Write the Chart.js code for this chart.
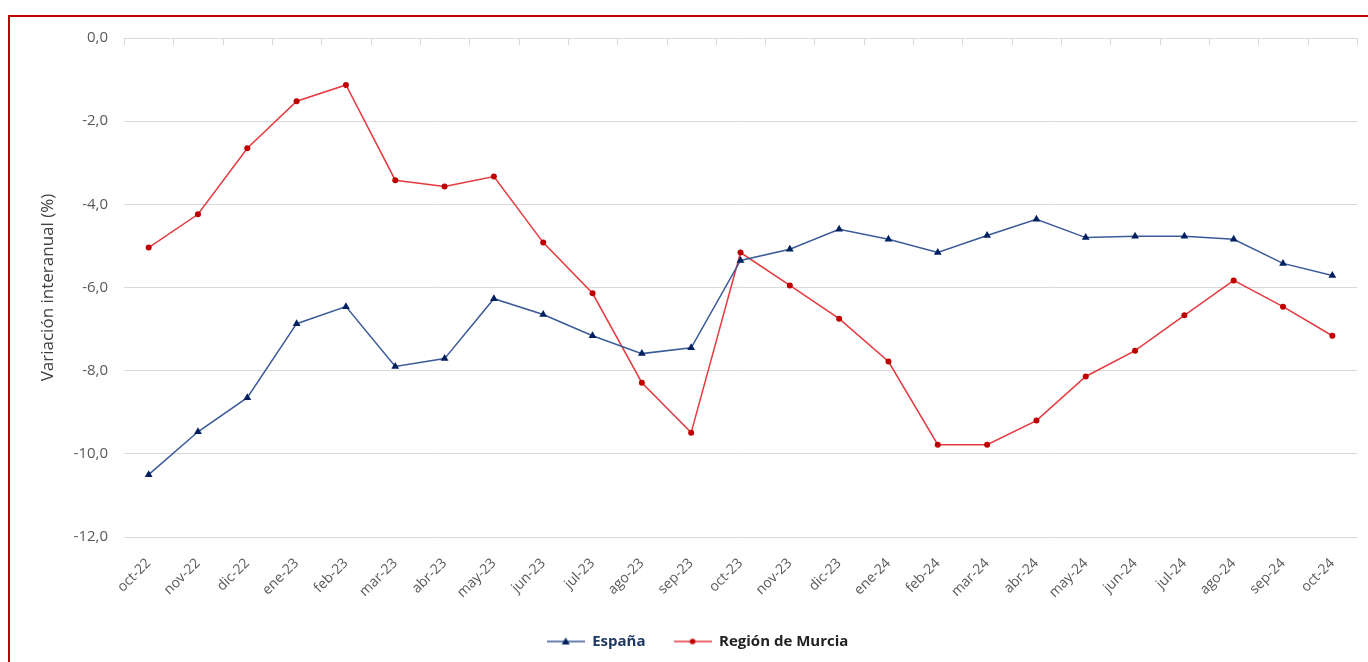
<!DOCTYPE html>
<html>
<head>
<meta charset="utf-8">
<script src="https://cdn.jsdelivr.net/npm/chart.js@4.4.1/dist/chart.umd.min.js"></script>
<style>
    html, body { margin: 0; padding: 0; background: #fff; overflow: hidden; }
    #frame {
        position: absolute;
        left: 8px;
        top: 15px;
        width: 1400px;
        height: 700px;
        border: 2px solid #c00000;
        box-sizing: border-box;
    }
    #wrap { position: absolute; left: 0; top: 0; width: 1368px; height: 662px; }
</style>
</head>
<body>
<div id="frame"></div>
<div id="wrap"><canvas id="chart"></canvas></div>
<script>
const meses = ['oct-22', 'nov-22', 'dic-22', 'ene-23', 'feb-23', 'mar-23', 'abr-23', 'may-23', 'jun-23',
    'jul-23', 'ago-23', 'sep-23', 'oct-23', 'nov-23', 'dic-23', 'ene-24', 'feb-24', 'mar-24', 'abr-24',
    'may-24', 'jun-24', 'jul-24', 'ago-24', 'sep-24', 'oct-24'];

const espana = [-10.5, -9.47, -8.65, -6.87, -6.46, -7.90, -7.71, -6.27, -6.65, -7.16, -7.59, -7.45,
    -5.35, -5.08, -4.60, -4.84, -5.16, -4.75, -4.36, -4.80, -4.77, -4.77, -4.84, -5.42, -5.71];

const murcia = [-5.04, -4.24, -2.65, -1.52, -1.13, -3.42, -3.57, -3.33, -4.92, -6.14, -8.29, -9.49,
    -5.16, -5.95, -6.75, -7.78, -9.78, -9.78, -9.20, -8.14, -7.52, -6.67, -5.83, -6.46, -7.16];

const yTicks = [0, -2, -4, -6, -8, -10, -12];

const FONT = '"Open Sans", Lato, sans-serif';
const azulLinea = '#3a5a98';
const azulMarca = '#002060';
const rojoLinea = '#e43a3f';
const rojoMarca = '#c00000';

// small line + marker sample used as legend symbol
function legendSymbol(lineColor, markColor, shape) {
    const c = document.createElement('canvas');
    c.width = 38;
    c.height = 10;
    const g = c.getContext('2d');
    g.strokeStyle = lineColor;
    g.lineWidth = 1.5;
    g.beginPath();
    g.moveTo(0, 5);
    g.lineTo(38, 5);
    g.stroke();
    g.fillStyle = markColor;
    g.beginPath();
    if (shape === 'triangle') {
        g.moveTo(19, 1);
        g.lineTo(23, 8);
        g.lineTo(15, 8);
        g.closePath();
    } else {
        g.arc(19, 5, 2.8, 0, Math.PI * 2);
    }
    g.fill();
    return c;
}

// short ticks hanging from the top axis line, one at each category boundary
const topTicks = {
    id: 'topTicks',
    afterDatasetsDraw(chart) {
        const x = chart.scales.x;
        const y = chart.scales.y;
        const top = y.getPixelForValue(0);
        const step = (x.right - x.left) / meses.length;
        const ctx = chart.ctx;
        ctx.save();
        ctx.strokeStyle = '#d9d9d9';
        ctx.lineWidth = 1;
        for (let i = 0; i <= meses.length; i++) {
            const px = Math.round(x.left + i * step) + 0.5;
            ctx.beginPath();
            ctx.moveTo(px, top);
            ctx.lineTo(px, top + 7);
            ctx.stroke();
        }
        ctx.restore();
    }
};

const legendItems = [
    { symbol: legendSymbol(azulLinea, azulMarca, 'triangle'), color: '#1f3864' },
    { symbol: legendSymbol(rojoLinea, rojoMarca, 'circle'), color: '#222222' }
];

new Chart(document.getElementById('chart'), {
    type: 'line',
    data: {
        labels: meses,
        datasets: [
            {
                label: 'España',
                data: espana,
                borderColor: azulLinea,
                backgroundColor: azulMarca,
                borderWidth: 1.5,
                pointStyle: 'triangle',
                pointRadius: 4.5,
                pointBorderWidth: 0,
                pointBackgroundColor: azulMarca,
                tension: 0
            },
            {
                label: 'Región de Murcia',
                data: murcia,
                borderColor: rojoLinea,
                backgroundColor: rojoMarca,
                borderWidth: 1.5,
                pointStyle: 'circle',
                pointRadius: 3,
                pointBorderWidth: 0,
                pointBackgroundColor: rojoMarca,
                tension: 0
            }
        ]
    },
    options: {
        responsive: true,
        maintainAspectRatio: false,
        animation: false,
        layout: {
            padding: { top: 38, right: 11, left: 38, bottom: 3 }
        },
        plugins: {
            tooltip: { enabled: false },
            legend: {
                position: 'bottom',
                labels: {
                    usePointStyle: true,
                    pointStyleWidth: 38,
                    boxHeight: 10,
                    padding: 28,
                    font: { family: FONT, size: 15, weight: 'bold' },
                    generateLabels(chart) {
                        const items = Chart.defaults.plugins.legend.labels.generateLabels(chart);
                        items.forEach((it, i) => {
                            it.pointStyle = legendItems[i].symbol;
                            it.fontColor = legendItems[i].color;
                        });
                        return items;
                    }
                }
            }
        },
        scales: {
            x: {
                offset: true,
                grid: { display: false },
                border: { display: false },
                ticks: {
                    autoSkip: false,
                    minRotation: 45,
                    maxRotation: 45,
                    padding: 10,
                    color: '#595959',
                    font: { family: FONT, size: 14 }
                },
                afterFit(scale) { scale.height = 69; }
            },
            y: {
                min: -12,
                max: 0,
                afterBuildTicks(scale) {
                    scale.ticks = yTicks.map(v => ({ value: v }));
                },
                grid: { color: '#d9d9d9', drawTicks: false },
                border: { display: false },
                ticks: {
                    padding: 16,
                    color: '#595959',
                    font: { family: FONT, size: 15 },
                    callback: v => v.toFixed(1).replace('.', ',')
                },
                title: {
                    display: true,
                    text: 'Variación interanual (%)',
                    color: '#404040',
                    font: { family: FONT, size: 17 },
                    padding: { top: 0, bottom: 4 }
                },
                afterFit(scale) { scale.width = 86; }
            }
        }
    },
    plugins: [topTicks]
});
</script>
</body>
</html>
